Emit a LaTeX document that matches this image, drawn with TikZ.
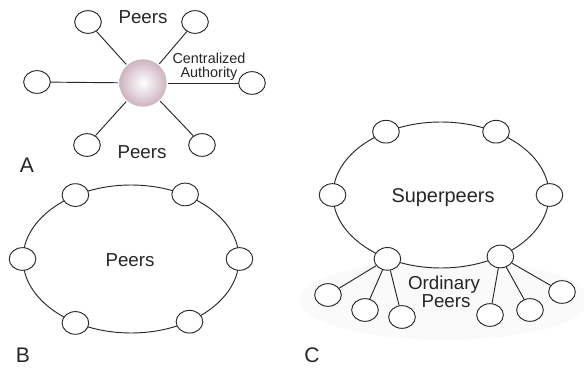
\documentclass[tikz,border=0pt]{standalone}
\usepackage{fontspec}
\setmainfont{Liberation Sans}
\usetikzlibrary{shapes.geometric}
\definecolor{sphereC}{RGB}{205,180,192}
\definecolor{lineC}{RGB}{40,40,40}
\tikzset{
  peer/.style={draw=lineC, line width=0.8pt, ellipse, fill=white, minimum width=0.8cm, minimum height=0.68cm, inner sep=0pt},
  ring/.style={draw=lineC, line width=0.8pt, ellipse, inner sep=0pt},
  link/.style={draw=lineC, line width=0.8pt},
  lbl/.style={font=\fontsize{16}{18}\selectfont, text=black!85, inner sep=0pt},
  small/.style={font=\fontsize{12.3}{14}\selectfont, text=black!85, inner sep=0pt, align=center},
  panel/.style={font=\fontsize{18}{20}\selectfont, text=black!85, inner sep=0pt}
}
\begin{document}
\begin{tikzpicture}[x=0.03cm, y=-0.03cm]
\useasboundingbox (0,0) rectangle (584,369);
% ---------- A ----------
\node[circle, minimum size=1.42cm, inner sep=0pt, inner color=white, outer color=sphereC] (hub) at (143,83) {};
\node[peer] (a1) at (88,22) {};
\node[peer] (a2) at (195,22) {};
\node[peer] (a3) at (37,82) {};
\node[peer] (a4) at (252,83) {};
\node[peer] (a5) at (87,145) {};
\node[peer] (a6) at (202,145) {};
\foreach \n in {a1,a2,a3,a4,a5,a6}{\draw[link, shorten >=1pt] (\n) -- (hub);}
\node[lbl] (pA1) at (143,17) {Peers};
\node[lbl] (pA2) at (142,152) {Peers};
\node[small] (ca) at (209,67) {Centralized\\[-2pt]Authority};
\node[panel] (A) at (27,165) {A};
% ---------- B ----------
\node[ring, minimum width=6.48cm, minimum height=4.44cm] (ringB) at (131,259) {};
\node[peer] (b1) at (ringB.131) {};
\node[peer] (b2) at (ringB.50) {};
\node[peer] (b3) at (ringB.180) {};
\node[peer] (b4) at (ringB.0) {};
\node[peer] (b5) at (ringB.229) {};
\node[peer] (b6) at (ringB.313) {};
\node[lbl] (pB) at (130,260) {Peers};
\node[panel] (B) at (23,355) {B};
% ---------- C ----------
\fill[gray!4] (445,300) ellipse [x radius=145, y radius=40];
\node[ring, fill=white, minimum width=6.48cm, minimum height=4.38cm] (ringC) at (441,195) {};
\node[peer] (c1) at (ringC.131) {};
\node[peer] (c2) at (ringC.49) {};
\node[peer] (c3) at (ringC.180) {};
\node[peer] (c4) at (ringC.0) {};
\node[peer] (s1) at (ringC.230) {};
\node[peer] (s2) at (ringC.314) {};
\node[lbl, font=\fontsize{17}{19}\selectfont] (sp) at (443,198) {Superpeers};
\node[peer] (o1) at (328,295) {};
\node[peer] (o2) at (365,310) {};
\node[peer] (o3) at (402,317) {};
\node[peer] (o4) at (490,315) {};
\node[peer] (o5) at (530,310) {};
\node[peer] (o6) at (562,292) {};
\foreach \n in {o1,o2,o3}{\draw[link] (s1) -- (\n);}
\foreach \n in {o4,o5,o6}{\draw[link] (s2) -- (\n);}
\node[lbl] (op1) at (444,285) {Ordinary};
\node[lbl] (op2) at (446,301) {Peers};
\node[panel] (C) at (312,355) {C};
\end{tikzpicture}
\end{document}
